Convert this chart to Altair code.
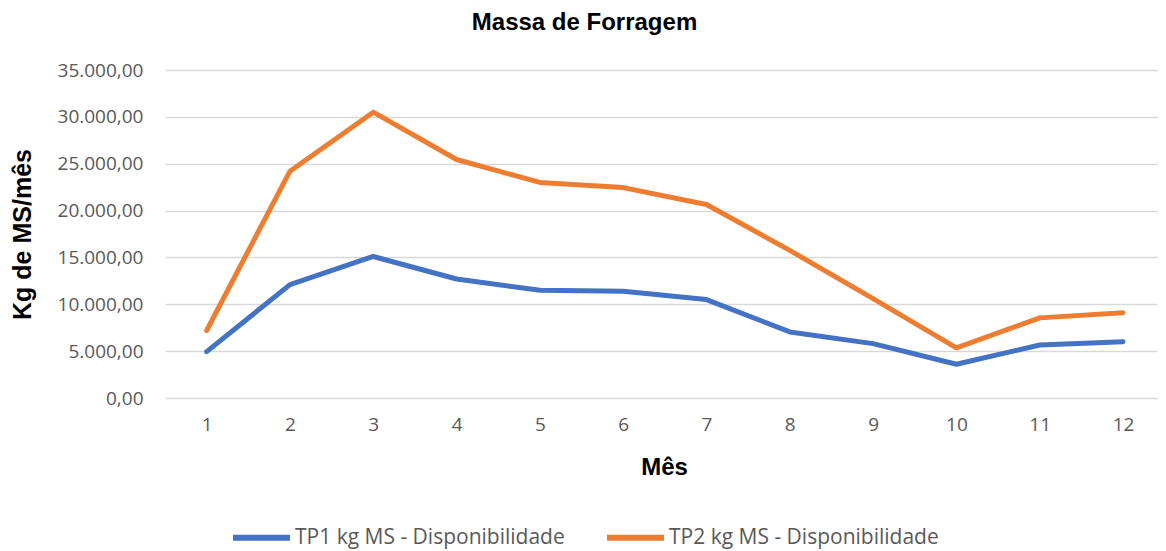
import altair as alt
import pandas as pd

months = [1, 2, 3, 4, 5, 6, 7, 8, 9, 10, 11, 12]
tp1 = [4950, 12100, 15100, 12700, 11500, 11400, 10500, 7050, 5800, 3600, 5650, 6000]
tp2 = [7200, 24200, 30500, 25450, 23000, 22450, 20650, 15750, 10600, 5350, 8550, 9100]
series_names = ["TP1 kg MS - Disponibilidade", "TP2 kg MS - Disponibilidade"]
series_colors = ["#4472C4", "#ED7D31"]
y_ticks = [0, 5000, 10000, 15000, 20000, 25000, 30000, 35000]

rows = []
for name, vals in zip(series_names, [tp1, tp2]):
    for m, v in zip(months, vals):
        rows.append({"Mês": m, "valor": v, "serie": name})
df = pd.DataFrame(rows)

label_font = "Open Sans"
title_font = "Liberation Sans"

chart = alt.Chart(df).mark_line(strokeWidth=5, strokeCap="round", strokeJoin="round").encode(
    x=alt.X(
        "Mês:Q",
        scale=alt.Scale(domain=[0.5, 12.42], nice=False, zero=False),
        axis=alt.Axis(
            values=months, format="d", grid=False, domain=False, ticks=False,
            labelFont=label_font, labelFontSize=19, labelColor="#595959", labelPadding=17,
            title="Mês", titleFont=title_font, titleFontSize=24, titleFontWeight="bold",
            titleColor="black", titleX=499, titleY=76, titleBaseline="alphabetic",
            titleAnchor="middle", titleAlign="center",
        ),
    ),
    y=alt.Y(
        "valor:Q",
        scale=alt.Scale(domain=[0, 35000], nice=False),
        axis=alt.Axis(
            values=y_ticks, grid=True, gridColor="#D9D9D9", gridWidth=1.5,
            domain=False, ticks=False,
            labelExpr="replace(replace(replace(format(datum.value, ',.2f'), ',', '#'), '.', ','), '#', '.')",
            labelFont=label_font, labelFontSize=19, labelColor="#595959", labelPadding=22,
            title="Kg de MS/mês", titleFont=title_font, titleFontSize=25, titleFontWeight="bold",
            titleColor="black", titleX=-135, titleY=164, titleBaseline="alphabetic",
            titleAngle=-90, titleAlign="center",
        ),
    ),
    color=alt.Color(
        "serie:N",
        scale=alt.Scale(domain=series_names, range=series_colors),
        legend=alt.Legend(
            title=None, orient="none", direction="horizontal", legendX=65, legendY=436,
            symbolType="stroke", symbolStrokeWidth=6, symbolSize=3249,
            labelFont=label_font, labelFontSize=21, labelColor="#595959", labelLimit=500,
            columnPadding=30, labelOffset=2, padding=0,
        ),
    ),
    order=alt.Order("Mês:Q"),
).properties(
    width=993,
    height=328,
    title=alt.TitleParams(
        "Massa de Forragem", font=title_font, fontSize=24, fontWeight="bold",
        color="black", anchor="middle", frame="group", baseline="alphabetic",
        offset=7, dx=-77,
    ),
    autosize=alt.AutoSizeParams(type="none"),
    padding={"left": 157, "top": 62, "right": 0, "bottom": 151},
).configure_view(stroke=None)

chart.save("out.html", embed_options={"renderer": "svg", "actions": False})
